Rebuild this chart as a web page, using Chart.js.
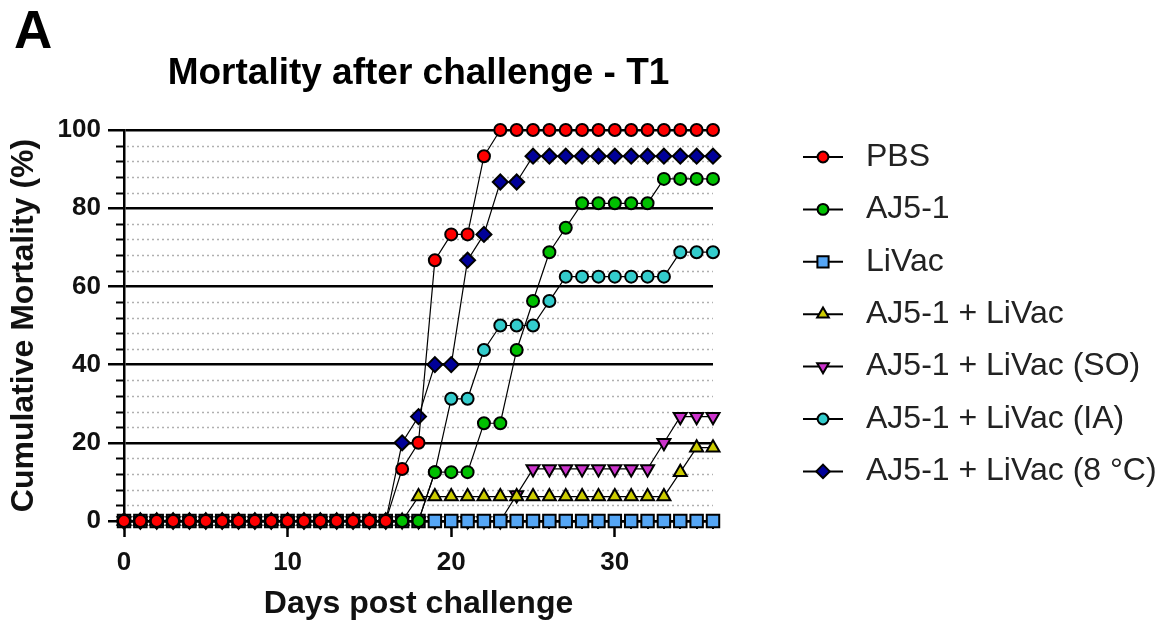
<!DOCTYPE html>
<html>
<head>
<meta charset="utf-8">
<title>Mortality after challenge - T1</title>
<script src="https://cdn.jsdelivr.net/npm/chart.js@4.4.1/dist/chart.umd.min.js"></script>
<style>
  html, body { margin: 0; padding: 0; background: #fff; }
  #wrap { width: 1176px; height: 626px; }
</style>
</head>
<body>
<div id="wrap"><canvas id="mortalityChart" width="1176" height="626"></canvas></div>
<script>
// days post challenge
const days = [0, 1, 2, 3, 4, 5, 6, 7, 8, 9, 10, 11, 12, 13, 14, 15, 16, 17, 18,
  19, 20, 21, 22, 23, 24, 25, 26, 27, 28, 29, 30, 31, 32, 33, 34, 35, 36];

// cumulative mortality (%) per group
const pbs = [0, 0, 0, 0, 0, 0, 0, 0, 0, 0, 0, 0, 0, 0, 0, 0, 0, 13.3, 20,
  66.7, 73.3, 73.3, 93.3, 100, 100, 100, 100, 100, 100, 100, 100, 100, 100, 100, 100, 100, 100];
const aj51 = [0, 0, 0, 0, 0, 0, 0, 0, 0, 0, 0, 0, 0, 0, 0, 0, 0, 0, 0,
  12.5, 12.5, 12.5, 25, 25, 43.75, 56.25, 68.75, 75, 81.25, 81.25, 81.25, 81.25, 81.25, 87.5, 87.5, 87.5, 87.5];
const liVac = [0, 0, 0, 0, 0, 0, 0, 0, 0, 0, 0, 0, 0, 0, 0, 0, 0, 0, 0,
  0, 0, 0, 0, 0, 0, 0, 0, 0, 0, 0, 0, 0, 0, 0, 0, 0, 0];
const ajLiVac = [0, 0, 0, 0, 0, 0, 0, 0, 0, 0, 0, 0, 0, 0, 0, 0, 0, 0, 6.25,
  6.25, 6.25, 6.25, 6.25, 6.25, 6.25, 6.25, 6.25, 6.25, 6.25, 6.25, 6.25, 6.25, 6.25, 6.25, 12.5, 18.75, 18.75];
const ajLiVacSO = [0, 0, 0, 0, 0, 0, 0, 0, 0, 0, 0, 0, 0, 0, 0, 0, 0, 0, 0,
  0, 0, 0, 0, 0, 6.67, 13.33, 13.33, 13.33, 13.33, 13.33, 13.33, 13.33, 13.33, 20, 26.67, 26.67, 26.67];
const ajLiVacIA = [0, 0, 0, 0, 0, 0, 0, 0, 0, 0, 0, 0, 0, 0, 0, 0, 0, 0, 0,
  12.5, 31.25, 31.25, 43.75, 50, 50, 50, 56.25, 62.5, 62.5, 62.5, 62.5, 62.5, 62.5, 62.5, 68.75, 68.75, 68.75];
const ajLiVac8C = [0, 0, 0, 0, 0, 0, 0, 0, 0, 0, 0, 0, 0, 0, 0, 0, 0, 20, 26.7,
  40, 40, 66.7, 73.3, 86.7, 86.7, 93.3, 93.3, 93.3, 93.3, 93.3, 93.3, 93.3, 93.3, 93.3, 93.3, 93.3, 93.3];

const yTicks = [0, 20, 40, 60, 80, 100];
const xTicks = [0, 10, 20, 30];

const FONT = '"Liberation Sans", Arial, Helvetica, sans-serif';

function points(values) {
  return days.map((d, i) => ({ x: d, y: values[i] }));
}

function series(label, values, color, style, radius, rotation) {
  return {
    label: label,
    data: points(values),
    borderColor: '#000',
    borderWidth: 1.2,
    pointBackgroundColor: color,
    pointBorderColor: '#000',
    pointBorderWidth: 2,
    pointStyle: style,
    pointRadius: radius,
    pointHoverRadius: radius,
    pointRotation: rotation || 0,
    tension: 0,
    fill: false,
    clip: false
  };
}

// first dataset ends up on top
const datasets = [
  series('PBS', pbs, '#ff0000', 'circle', 6),
  series('AJ5-1', aj51, '#00c000', 'circle', 6),
  series('LiVac', liVac, '#55a6f5', 'rect', 8.8),
  series('AJ5-1 + LiVac', ajLiVac, '#cccc00', 'triangle', 7.5),
  series('AJ5-1 + LiVac (SO)', ajLiVacSO, '#cc33cc', 'triangle', 7.5, 180),
  series('AJ5-1 + LiVac (IA)', ajLiVacIA, '#33cccc', 'circle', 6),
  series('AJ5-1 + LiVac (8 °C)', ajLiVac8C, '#000099', 'rectRot', 7.5)
];

const extras = {
  id: 'extras',
  beforeDatasetsDraw(chart) {
    const { ctx, chartArea, scales } = chart;
    const x = scales.x, y = scales.y;
    ctx.save();
    // dotted minor grid every 4 %
    ctx.strokeStyle = '#b0b0b0';
    ctx.lineWidth = 1.5;
    ctx.setLineDash([2, 3]);
    for (let v = 4; v < 100; v += 4) {
      if (v % 20 === 0) continue;
      const py = Math.round(y.getPixelForValue(v)) + 0.5;
      ctx.beginPath();
      ctx.moveTo(chartArea.left + 3, py);
      ctx.lineTo(chartArea.right, py);
      ctx.stroke();
    }
    ctx.setLineDash([]);
    ctx.strokeStyle = '#000';
    ctx.lineWidth = 2;
    for (let v = 4; v < 100; v += 4) {
      if (v % 20 === 0) continue;
      const py = Math.round(y.getPixelForValue(v)) + 0.5;
      ctx.beginPath();
      ctx.moveTo(chartArea.left - 8, py);
      ctx.lineTo(chartArea.left, py);
      ctx.stroke();
    }
    for (let d = 1; d <= 36; d++) {
      if (d % 10 === 0) continue;
      const px = Math.round(x.getPixelForValue(d));
      ctx.beginPath();
      ctx.moveTo(px, chartArea.bottom);
      ctx.lineTo(px, chartArea.bottom + 8);
      ctx.stroke();
    }
    ctx.restore();
  },
  afterDraw(chart) {
    const { ctx, chartArea } = chart;
    ctx.save();
    ctx.fillStyle = '#000';
    ctx.textBaseline = 'alphabetic';
    ctx.textAlign = 'left';
    ctx.font = 'bold 53px ' + FONT;
    ctx.fillText('A', 14, 48);

    ctx.textAlign = 'center';
    ctx.font = 'bold 37px ' + FONT;
    ctx.fillText('Mortality after challenge - T1', (chartArea.left + chartArea.right) / 2, 84);

    // legend
    const lx = 803, rowTop = 157, rowGap = 52.4;
    chart.data.datasets.forEach((ds, i) => {
      const cy = rowTop + i * rowGap;
      ctx.strokeStyle = '#000';
      ctx.lineWidth = 2;
      ctx.beginPath();
      ctx.moveTo(lx, cy);
      ctx.lineTo(lx + 40, cy);
      ctx.stroke();
      ctx.fillStyle = ds.pointBackgroundColor;
      ctx.strokeStyle = '#000';
      ctx.lineWidth = ds.pointBorderWidth;
      Chart.helpers.drawPoint(ctx, {
        pointStyle: ds.pointStyle,
        rotation: ds.pointRotation,
        radius: ds.pointRadius * 0.9,
        borderWidth: ds.pointBorderWidth
      }, lx + 20, cy);
      ctx.fillStyle = '#222';
      ctx.font = '32px ' + FONT;
      ctx.textAlign = 'left';
      ctx.textBaseline = 'middle';
      ctx.fillText(ds.label, 866, cy);
    });
    ctx.restore();
  }
};

new Chart(document.getElementById('mortalityChart'), {
  type: 'line',
  data: { datasets: datasets },
  plugins: [extras],
  options: {
    responsive: false,
    animation: false,
    events: [],
    layout: { padding: { top: 130, right: 463, bottom: 0, left: 0 } },
    plugins: {
      legend: { display: false },
      title: { display: false },
      tooltip: { enabled: false }
    },
    scales: {
      x: {
        type: 'linear',
        min: 0,
        max: 36,
        afterFit: (scale) => { scale.height = 105; },
        afterBuildTicks: (scale) => { scale.ticks = xTicks.map(v => ({ value: v })); },
        ticks: {
          color: '#111',
          font: { family: FONT, size: 26, weight: 'bold' },
          padding: 10,
          maxRotation: 0
        },
        grid: {
          drawOnChartArea: false,
          color: '#000',
          tickLength: 16,
          tickWidth: 2.5,
          tickColor: '#000'
        },
        border: { display: true, color: '#000', width: 2.5 },
        title: {
          display: true,
          text: 'Days post challenge',
          color: '#111',
          font: { family: FONT, size: 32, weight: 'bold' },
          padding: { top: 0, bottom: 3 }
        }
      },
      y: {
        min: 0,
        max: 100,
        afterFit: (scale) => { scale.width = 124; },
        afterBuildTicks: (scale) => { scale.ticks = yTicks.map(v => ({ value: v })); },
        ticks: {
          color: '#111',
          font: { family: FONT, size: 26, weight: 'bold' },
          padding: 7
        },
        grid: {
          color: '#000',
          lineWidth: 2.5,
          tickLength: 16,
          tickWidth: 2.5,
          tickColor: '#000'
        },
        border: { display: true, color: '#000', width: 2.5 },
        title: {
          display: true,
          text: 'Cumulative Mortality (%)',
          color: '#111',
          font: { family: FONT, size: 32, weight: 'bold' },
          padding: { top: 5, bottom: 0 }
        }
      }
    }
  }
});
</script>
</body>
</html>
